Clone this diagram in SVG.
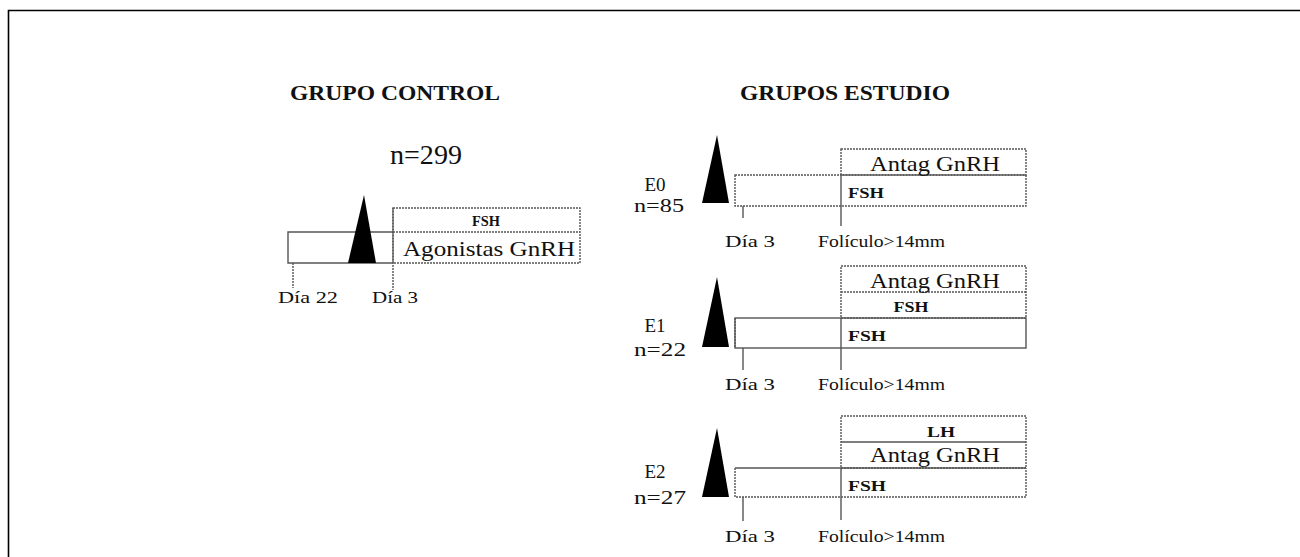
<svg xmlns="http://www.w3.org/2000/svg" width="1300" height="557" viewBox="0 0 1300 557">
<style>
text{font-family:"Liberation Serif","Times New Roman",serif;fill:#111}
.h{font-weight:bold;font-size:20px}
.big{font-size:21px}
.lab{font-size:16px}
.sm{font-size:14px;font-weight:bold}
.grp{font-size:19px}
.dot{fill:none;stroke:#555;stroke-width:1.4;stroke-dasharray:2 1}
.sol{fill:none;stroke:#555;stroke-width:1.4}
.tri{fill:#000}
</style>
<rect x="0" y="0" width="1300" height="557" fill="#fff"/>
<path d="M8.5 557 V10.5 H1300" fill="none" stroke="#000" stroke-width="1.6"/>

<g id="control">
<text class="h" x="290" y="100" textLength="210" lengthAdjust="spacingAndGlyphs">GRUPO CONTROL</text>
<text x="390" y="164" font-size="27" textLength="72" lengthAdjust="spacingAndGlyphs">n=299</text>
<path class="sol" d="M393 232 H288 V263 H393"/>
<rect class="dot" x="393" y="208" width="187" height="55"/>
<line class="dot" x1="393" y1="232" x2="580" y2="232"/>
<polygon class="tri" points="364,195 348,263 376,263"/>
<line class="dot" x1="293" y1="263" x2="293" y2="288"/>
<line class="dot" x1="393" y1="208" x2="393" y2="290"/>
<text class="sm" x="486" y="226" text-anchor="middle" textLength="28" lengthAdjust="spacingAndGlyphs">FSH</text>
<text class="big" x="403" y="256" textLength="172" lengthAdjust="spacingAndGlyphs">Agonistas GnRH</text>
<text class="lab" x="278" y="303" textLength="60" lengthAdjust="spacingAndGlyphs">Día 22</text>
<text class="lab" x="372" y="303" textLength="46" lengthAdjust="spacingAndGlyphs">Día 3</text>
</g>

<text class="h" x="740" y="100" textLength="210" lengthAdjust="spacingAndGlyphs">GRUPOS ESTUDIO</text>

<g id="E0">
<text class="grp" x="655" y="191" text-anchor="middle">E0</text>
<text class="grp" x="634" y="212" textLength="50" lengthAdjust="spacingAndGlyphs">n=85</text>
<polygon class="tri" points="717,135 702,203 729,203"/>
<rect class="dot" x="735" y="175" width="291" height="31"/>
<rect class="dot" x="841" y="149" width="185" height="26"/>
<line class="sol" x1="743" y1="206" x2="743" y2="218"/>
<line class="sol" x1="841" y1="175" x2="841" y2="226"/>
<text class="big" x="870" y="171" textLength="130" lengthAdjust="spacingAndGlyphs">Antag GnRH</text>
<text class="sm" x="848" y="198" textLength="36" lengthAdjust="spacingAndGlyphs">FSH</text>
<text class="lab" x="725" y="247" textLength="50" lengthAdjust="spacingAndGlyphs">Día 3</text>
<text class="lab" x="818" y="247" textLength="127" lengthAdjust="spacingAndGlyphs">Folículo&gt;14mm</text>
</g>

<g id="E1">
<text class="grp" x="655" y="332" text-anchor="middle">E1</text>
<text class="grp" x="634" y="356" textLength="52" lengthAdjust="spacingAndGlyphs">n=22</text>
<polygon class="tri" points="717,277 702,347 729,347"/>
<rect class="sol" x="735" y="318" width="291" height="30"/>
<path class="dot" d="M735 318 V348"/>
<rect class="dot" x="841" y="266" width="185" height="52"/>
<line class="dot" x1="841" y1="292" x2="1026" y2="292"/>
<line class="sol" x1="743" y1="348" x2="743" y2="370"/>
<line class="sol" x1="841" y1="318" x2="841" y2="370"/>
<text class="big" x="870" y="288" textLength="130" lengthAdjust="spacingAndGlyphs">Antag GnRH</text>
<text class="sm" x="911" y="312" text-anchor="middle" textLength="35" lengthAdjust="spacingAndGlyphs">FSH</text>
<text class="sm" x="848" y="341" textLength="38" lengthAdjust="spacingAndGlyphs">FSH</text>
<text class="lab" x="725" y="390" textLength="50" lengthAdjust="spacingAndGlyphs">Día 3</text>
<text class="lab" x="818" y="390" textLength="127" lengthAdjust="spacingAndGlyphs">Folículo&gt;14mm</text>
</g>

<g id="E2">
<text class="grp" x="655" y="478" text-anchor="middle">E2</text>
<text class="grp" x="634" y="504" textLength="52" lengthAdjust="spacingAndGlyphs">n=27</text>
<polygon class="tri" points="717,428 702,497 729,497"/>
<path class="sol" d="M735 468 H1026"/>
<path class="dot" d="M735 468 V497 H1026 V468"/>
<rect class="dot" x="841" y="416" width="185" height="52"/>
<line class="sol" x1="841" y1="442" x2="1026" y2="442"/>
<line class="sol" x1="743" y1="497" x2="743" y2="521"/>
<line class="sol" x1="841" y1="468" x2="841" y2="520"/>
<text class="sm" x="941" y="437" text-anchor="middle" textLength="28" lengthAdjust="spacingAndGlyphs">LH</text>
<text class="big" x="870" y="462" textLength="130" lengthAdjust="spacingAndGlyphs">Antag GnRH</text>
<text class="sm" x="848" y="491" textLength="38" lengthAdjust="spacingAndGlyphs">FSH</text>
<text class="lab" x="725" y="542" textLength="50" lengthAdjust="spacingAndGlyphs">Día 3</text>
<text class="lab" x="818" y="542" textLength="127" lengthAdjust="spacingAndGlyphs">Folículo&gt;14mm</text>
</g>
</svg>
